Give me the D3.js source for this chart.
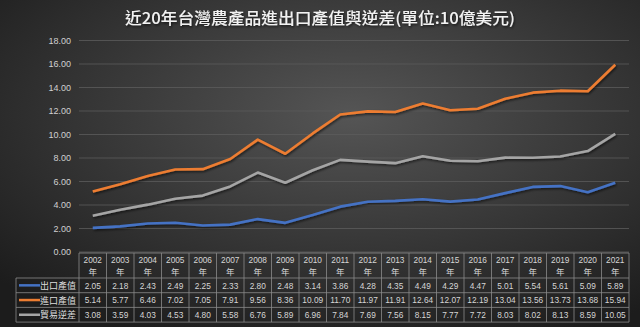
<!DOCTYPE html>
<html><head><meta charset="utf-8">
<script src="https://cdn.jsdelivr.net/npm/d3@7"></script>
<style>html,body{margin:0;padding:0;background:#222;}svg{display:block;}</style>
</head><body>
<script>
const years = ["2002","2003","2004","2005","2006","2007","2008","2009","2010","2011","2012","2013","2014","2015","2016","2017","2018","2019","2020","2021"];
const exportVals = [2.05,2.18,2.43,2.49,2.25,2.33,2.80,2.48,3.14,3.86,4.28,4.35,4.49,4.29,4.47,5.01,5.54,5.61,5.09,5.89];
const importVals = [5.14,5.77,6.46,7.02,7.05,7.91,9.56,8.36,10.09,11.70,11.97,11.91,12.64,12.07,12.19,13.04,13.56,13.73,13.68,15.94];
const deficitVals = [3.08,3.59,4.03,4.53,4.80,5.58,6.76,5.89,6.96,7.84,7.69,7.56,8.15,7.77,7.72,8.03,8.02,8.13,8.59,10.05];
const seriesNames = ["出口產值","進口產值","貿易逆差"];
const seriesColors = ["#4472C4","#ED7D31","#A5A5A5"];
const yTicks = [0,2,4,6,8,10,12,14,16,18];
const title = "近20年台灣農產品進出口產值與逆差(單位:10億美元)";

const W = 640, H = 327;
const svg = d3.select("body").append("svg").attr("width", W).attr("height", H);
const defs = svg.append("defs");
const rg = defs.append("radialGradient").attr("id","bg").attr("cx","55%").attr("cy","35%").attr("r","75%");
rg.append("stop").attr("offset","0%").attr("stop-color","#555555");
rg.append("stop").attr("offset","100%").attr("stop-color","#1c1c1c");
const f = defs.append("filter").attr("id","sh").attr("x","-5%").attr("y","-20%").attr("width","110%").attr("height","140%");
f.append("feDropShadow").attr("dx",1).attr("dy",1.5).attr("stdDeviation",1).attr("flood-color","#000").attr("flood-opacity",0.6);

svg.append("rect").attr("width",W).attr("height",H).attr("fill","url(#bg)");

svg.append("text").attr("x",125).attr("y",24)
  .attr("textLength",390).attr("lengthAdjust","spacingAndGlyphs")
  .attr("font-family","'Noto Sans CJK TC','Noto Sans',sans-serif").attr("font-size",15.5).attr("font-weight",500)
  .attr("fill","#f2f2f2").attr("filter","url(#sh)").text(title);

const x = d3.scaleBand().domain(years).range([79,629]);
const y = d3.scaleLinear().domain([0,18]).range([252,40.5]);

// grid
svg.append("g").selectAll("line").data(yTicks).join("line")
  .attr("x1",79).attr("x2",629).attr("y1",d=>y(d)).attr("y2",d=>y(d))
  .attr("stroke","#5c5c5c").attr("stroke-width",0.8);

const yAxis = svg.append("g").attr("transform","translate(79,0)")
  .call(d3.axisLeft(y).tickValues(yTicks).tickFormat(d3.format(".2f")).tickSize(0).tickPadding(8));
yAxis.select(".domain").remove();
yAxis.selectAll("text").attr("fill","#d0d0d0").attr("font-size",9).attr("font-family","'Liberation Sans',sans-serif");

const allSeries = [exportVals, importVals, deficitVals];
const line = d3.line().x((d,i)=>x(years[i])+x.bandwidth()/2).y(d=>y(d));
allSeries.forEach((s,k)=>{
  svg.append("path").datum(s).attr("d",line).attr("fill","none")
    .attr("stroke",seriesColors[k]).attr("stroke-width",2.6).attr("stroke-linejoin","round")
    .attr("filter","url(#sh)");
});

// table
const tTop = 253, hdrB = 278, rowH = 14.7;
const tg = svg.append("g");
const bc = "#8a8a8a";
const fontT = "'Noto Sans CJK TC','Liberation Sans',sans-serif";
tg.append("line").attr("x1",79).attr("x2",629).attr("y1",tTop).attr("y2",tTop).attr("stroke",bc).attr("stroke-width",0.8);
[0,1,2,3].forEach(r=>{
  tg.append("line").attr("x1",16).attr("x2",629).attr("y1",hdrB+r*rowH).attr("y2",hdrB+r*rowH).attr("stroke",bc).attr("stroke-width",0.8);
});
const xs = years.map(yy=>x(yy)).concat([629]);
tg.selectAll("line.v").data(xs).join("line").attr("class","v")
  .attr("x1",d=>d).attr("x2",d=>d).attr("y1",tTop).attr("y2",hdrB+3*rowH).attr("stroke",bc).attr("stroke-width",0.8);
tg.append("line").attr("x1",16).attr("x2",16).attr("y1",hdrB).attr("y2",hdrB+3*rowH).attr("stroke",bc).attr("stroke-width",0.8);

const hdr = tg.selectAll("g.h").data(years).join("g").attr("class","h");
hdr.append("text").attr("x",d=>x(d)+x.bandwidth()/2).attr("y",tTop+10).attr("text-anchor","middle")
  .attr("font-family","'Liberation Sans',sans-serif").attr("font-size",8.3).attr("fill","#d6d6d6").text(d=>d);
hdr.append("text").attr("x",d=>x(d)+x.bandwidth()/2).attr("y",tTop+21.5).attr("text-anchor","middle")
  .attr("font-family",fontT).attr("font-size",8.5).attr("fill","#d6d6d6").text("年");

allSeries.forEach((s,k)=>{
  const cy = hdrB + k*rowH + rowH/2;
  tg.append("line").attr("x1",19).attr("x2",40).attr("y1",cy).attr("y2",cy)
    .attr("stroke",seriesColors[k]).attr("stroke-width",2.5);
  tg.append("text").attr("x",76).attr("y",cy+3.5).attr("text-anchor","end")
    .attr("font-family",fontT).attr("font-size",9).attr("fill","#dcdcdc").text(seriesNames[k]);
  tg.selectAll(null).data(s).join("text")
    .attr("x",(d,i)=>x(years[i])+x.bandwidth()/2).attr("y",cy+3.3).attr("text-anchor","middle")
    .attr("font-family","'Liberation Sans',sans-serif").attr("font-size",8.3).attr("fill","#d6d6d6")
    .text(d=>d.toFixed(2));
});
</script>
</body></html>
